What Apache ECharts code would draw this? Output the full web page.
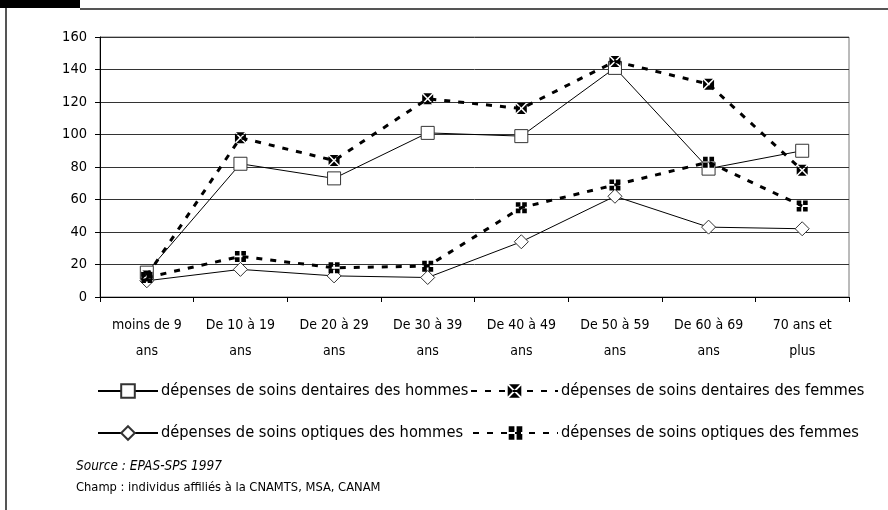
<!DOCTYPE html>
<html>
<head>
<meta charset="utf-8">
<script src="https://cdn.jsdelivr.net/npm/echarts@6/dist/echarts.min.js"></script>
<style>
html,body{margin:0;padding:0;background:#fff;}
#chart{width:888px;height:510px;}
</style>
</head>
<body>
<div id="chart"></div>
<script>
var categories = ["moins de 9\nans", "De 10 à 19\nans", "De 20 à 29\nans", "De 30 à 39\nans", "De 40 à 49\nans", "De 50 à 59\nans", "De 60 à 69\nans", "70 ans et\nplus"];
var yTicks = [0, 20, 40, 60, 80, 100, 120, 140, 160];
var dentMen = [15, 82, 73, 101, 99, 141, 79, 90];
var dentWomen = [13, 98, 84, 122, 116, 145, 131, 78];
var optMen = [10, 17, 13, 12, 34, 62, 43, 42];
var optWomen = [12, 25, 18, 19, 55, 69, 83, 56];
var names = [
  "dépenses de soins dentaires des hommes",
  "dépenses de soins dentaires des femmes",
  "dépenses de soins optiques des hommes",
  "dépenses de soins optiques des femmes"
];

var FONT = "'DejaVu Sans Condensed', 'DejaVu Sans', sans-serif";
var xBox = 'path://M1,0 L9,0 L5,4 Z M10,1 L10,9 L6,5 Z M9,10 L1,10 L5,6 Z M0,9 L0,1 L4,5 Z';
var plusBox = 'path://M0,0 L4.2,0 L4.2,4.2 L0,4.2 Z M5.8,0 L10,0 L10,4.2 L5.8,4.2 Z M0,5.8 L4.2,5.8 L4.2,10 L0,10 Z M5.8,5.8 L10,5.8 L10,10 L5.8,10 Z';

var chart = echarts.init(document.getElementById('chart'), null, {renderer: 'canvas'});

function legendFor(name, left, top, w) {
  return {
    data: [name], left: left, top: top, itemWidth: w, itemHeight: 17, padding: 0,
    selectedMode: false,
    textStyle: {fontFamily: FONT, fontSize: 16.3, color: '#000', padding: [0, 0, 0, -2]}
  };
}

var option = {
  animation: false,
  backgroundColor: '#fff',
  grid: {left: 100, right: 39, top: 37, bottom: 213, show: true, borderColor: '#777', borderWidth: 1, backgroundColor: 'transparent'},
  legend: [
    legendFor(names[0], 97, 383, 60),
    legendFor(names[1], 470, 383, 87),
    legendFor(names[2], 97, 425, 60),
    legendFor(names[3], 472, 425, 85)
  ],
  xAxis: {
    type: 'category', data: categories, boundaryGap: true,
    axisLine: {show: true, lineStyle: {color: '#000', width: 1}},
    axisTick: {show: true, length: 5, lineStyle: {color: '#000'}},
    axisLabel: {fontFamily: FONT, fontSize: 14, color: '#000', lineHeight: 25.5, margin: 16, interval: 0}
  },
  yAxis: {
    type: 'value', min: yTicks[0], max: yTicks[yTicks.length - 1], interval: yTicks[1] - yTicks[0],
    axisLine: {show: true, lineStyle: {color: '#000', width: 1}},
    axisTick: {show: true, length: 5, lineStyle: {color: '#000'}},
    axisLabel: {fontFamily: FONT, fontSize: 14.5, color: '#000', margin: 13},
    splitLine: {show: true, lineStyle: {color: '#333', width: 1}}
  },
  series: [
    {
      name: names[0], type: 'line', data: dentMen, symbol: 'rect', symbolSize: 13,
      lineStyle: {color: '#000', width: 1},
      itemStyle: {color: '#fff', borderColor: '#333', borderWidth: 1}, z: 3
    },
    {
      name: names[1], type: 'line', data: dentWomen, symbol: xBox, symbolSize: 11,
      lineStyle: {color: '#000', width: 3, type: [6, 8]},
      itemStyle: {color: '#000', borderWidth: 0}, z: 4
    },
    {
      name: names[2], type: 'line', data: optMen, symbol: 'diamond', symbolSize: [14, 14],
      lineStyle: {color: '#000', width: 1},
      itemStyle: {color: '#fff', borderColor: '#333', borderWidth: 1}, z: 3
    },
    {
      name: names[3], type: 'line', data: optWomen, symbol: plusBox, symbolSize: 11,
      lineStyle: {color: '#000', width: 3, type: [6, 8]},
      itemStyle: {color: '#000', borderWidth: 0}, z: 4
    }
  ],
  graphic: [
    {type: 'rect', shape: {x: 0, y: 0, width: 80, height: 8}, style: {fill: '#000'}},
    {type: 'line', shape: {x1: 80, y1: 9, x2: 888, y2: 9}, style: {stroke: '#555', lineWidth: 2}},
    {type: 'line', shape: {x1: 6, y1: 8, x2: 6, y2: 510}, style: {stroke: '#555', lineWidth: 2}},
    {type: 'text', left: 76, top: 459, style: {text: 'Source : EPAS-SPS 1997', fontFamily: FONT, fontSize: 13.5, fontStyle: 'italic', fill: '#000'}},
    {type: 'text', left: 76, top: 481, style: {text: 'Champ : individus affiliés à la CNAMTS, MSA, CANAM', fontFamily: FONT, fontSize: 12.8, fill: '#000'}}
  ]
};
chart.setOption(option);
</script>
</body>
</html>
